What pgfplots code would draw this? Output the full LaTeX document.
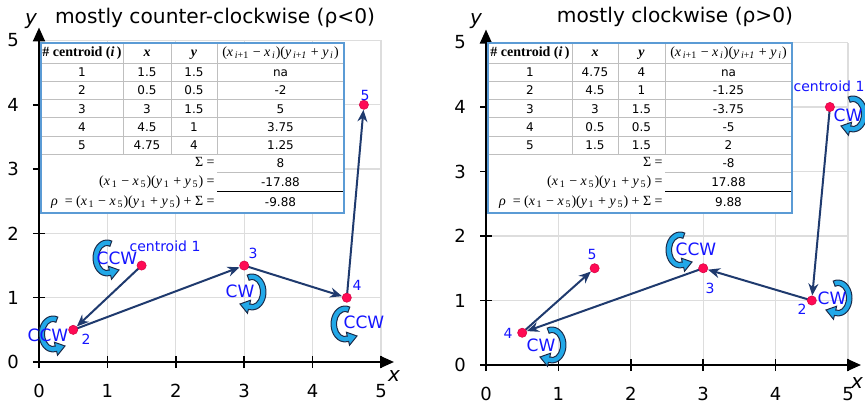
\documentclass[border=0pt]{standalone}
\usepackage{pgfplots}
\pgfplotsset{compat=1.18}
\usetikzlibrary{arrows.meta}
\usepackage{fontspec}
\setmainfont{DejaVu Sans}
\newfontfamily\serif{Liberation Serif}

\definecolor{navy}{HTML}{1F3A6E}
\definecolor{dotred}{HTML}{FF0A54}
\definecolor{labblue}{HTML}{1414FF}
\definecolor{iconblue}{HTML}{22A8E8}
\definecolor{icondark}{HTML}{1B2A48}
\definecolor{tabblue}{HTML}{5B9BD5}
\definecolor{gridgray}{HTML}{DDDDDD}
\definecolor{tabgray}{HTML}{BFBFBF}

\pgfplotsset{
  panel/.style={
    anchor=south west,
    xmin=0, xmax=5, ymin=0, ymax=5,
    enlargelimits=false, clip=false,
    axis lines=left,
    axis line style={black, line width=1pt, -{Triangle[length=7pt,width=6pt]},
      shorten >=-6.5pt, shorten <=-2pt},
    xtick={0,...,5}, ytick={0,...,5},
    tick align=center, major tick length=6pt,
    tick style={black, line width=0.8pt},
    grid=major, major grid style={gridgray, line width=0.6pt},
    ticklabel style={font=\fontsize{9}{10}\selectfont},
    /pgf/number format/assume math mode=true,
    xticklabel style={yshift=-4.5pt},
    yticklabel style={xshift=-3.5pt},
  },
  seg/.style={navy, line width=1pt, -{Stealth[length=6pt,width=5pt]}, shorten >=2.5pt},
  dots/.style={only marks, mark=*, mark size=2.3pt,
    mark options={fill=dotred, draw=dotred!85!black, line width=0.3pt}},
}

% rotation icon: #1 = 1 (ccw) or -1 (cw), #2,#3 centre in pixels
\newcommand{\rot}[3]{%
  \begin{scope}[shift={(#2,#3)}, xscale=#1, yscale=-1]
    \filldraw[fill=iconblue, draw=icondark, line width=0.5pt]
      (70:14 and 18) arc[start angle=70, end angle=285, x radius=14, y radius=18]
      -- (285:17.5 and 22) -- (12,-12) -- (285:5.5 and 8.5) -- (285:8.5 and 12.5)
      arc[start angle=285, end angle=70, x radius=8.5, y radius=12.5] -- cycle;
  \end{scope}}

% table frame: #1..#5 column edges in pixels
\newcommand{\tabframe}[5]{%
  \fill[white] (#1,43.3) rectangle (#5,213.3);
  \foreach \yy in {63.3,81.5,99.7,117.9,136.1,154.3}
    \draw[tabgray, line width=0.5pt] (#1,\yy) -- (#5,\yy);
  \foreach \xx in {#2,#3,#4}
    \draw[tabgray, line width=0.5pt] (\xx,43.3) -- (\xx,154.3);
  \draw[tabgray, line width=0.5pt] (#4,172.7) -- (#5,172.7);
  \draw[black, line width=0.8pt] (#4,191.7) -- (#5,191.7);
  \draw[tabblue, line width=0.9pt] (#1,43.3) rectangle (#5,213.3);
}

% serif variable with subscript
\newcommand{\vs}[2]{\textit{#1}\textsubscript{#2}}
\newcommand{\headf}{(\vs{x}{\,\textit{i}+1} − \vs{x}{\,\textit{i}})(\vs{y}{\,\textit{i}+\textit{1}} + \vs{y}{\,\textit{i}})}
\newcommand{\prodf}{(\vs{x}{\,1} − \vs{x}{\,5})(\vs{y}{\,1} + \vs{y}{\,5})}

\tikzset{
  tt/.style={inner sep=0pt, text height=4.4pt, text depth=0pt,
    font=\fontsize{6}{7}\selectfont},
  ff/.style={inner sep=0pt, text height=4.8pt, text depth=1.4pt,
    font=\fontsize{7}{8}\selectfont\serif},
  lab/.style={labblue, inner sep=0pt, font=\fontsize{7}{8}\selectfont},
  rl/.style={labblue, inner sep=0pt, font=\fontsize{8.5}{10}\selectfont},
}

\begin{document}
\begin{tikzpicture}

% left panel: mostly counter-clockwise
\begin{axis}[panel, at={(19.5pt,25pt)}, x=34.2pt, y=32.15pt]
\addplot[seg] coordinates {(1.5,1.5) (0.5,0.5)};
\addplot[seg] coordinates {(0.5,0.5) (3,1.5)};
\addplot[seg] coordinates {(3,1.5) (4.5,1)};
\addplot[seg] coordinates {(4.5,1) (4.75,4)};
\addplot[dots] coordinates {(1.5,1.5) (0.5,0.5) (3,1.5) (4.5,1) (4.75,4)};
\end{axis}

% right panel: mostly clockwise
\begin{axis}[panel, at={(243pt,23.5pt)}, x=36.2pt, y=32.25pt]
\addplot[seg] coordinates {(4.75,4) (4.5,1)};
\addplot[seg] coordinates {(4.5,1) (3,1.5)};
\addplot[seg] coordinates {(3,1.5) (0.5,0.5)};
\addplot[seg] coordinates {(0.5,0.5) (1.5,1.5)};
\addplot[dots] coordinates {(4.75,4) (4.5,1) (3,1.5) (0.5,0.5) (1.5,1.5)};
\end{axis}

\begin{scope}[x=0.5pt, y=-0.5pt, shift={(0pt,206pt)}]
% titles and axis names
\node[font=\fontsize{10.1}{12}\selectfont] at (215,18) {mostly counter-clockwise (ρ<0)};
\node[font=\fontsize{10.1}{12}\selectfont] at (675,17) {mostly clockwise (ρ>0)};
\node[font=\fontsize{10}{12}\selectfont\itshape] at (31,21) {y};
\node[font=\fontsize{10}{12}\selectfont\itshape] at (476,21) {y};
\node[font=\fontsize{10}{12}\selectfont\itshape] at (394,376) {x};
\node[font=\fontsize{10}{12}\selectfont\itshape] at (857,383) {x};

% left table
\tabframe{41}{123}{171}{217}{344}
\node[ff] at (82,53.3) {\textbf{\# centroid (\textit{i\,})}};
\node[ff] at (147,53.3) {\textbf{\textit{x}}};
\node[ff] at (194,53.3) {\textbf{\textit{y}}};
\node[ff] at (280.5,53.3) {\headf};
\foreach \a/\b/\c/\d [count=\r] in {1/1.5/1.5/na, 2/0.5/0.5/-2, 3/3/1.5/5,
    4/4.5/1/3.75, 5/4.75/4/1.25} {
  \node[tt] at (82,{72.4+18.2*(\r-1)}) {\a};
  \node[tt] at (147,{72.4+18.2*(\r-1)}) {\b};
  \node[tt] at (194,{72.4+18.2*(\r-1)}) {\c};
  \node[tt] at (280.5,{72.4+18.2*(\r-1)}) {\d};
}
\node[ff, anchor=east] at (215,163.5) {Σ =};
\node[ff, anchor=east] at (215,182.2) {\prodf\ =};
\node[ff, anchor=east] at (215,202.5) {\textit{ρ}\ \ = \prodf\ + Σ =};
\node[tt] at (280.5,163.5) {8};
\node[tt] at (280.5,182.2) {-17.88};
\node[tt] at (280.5,202.5) {-9.88};

% right table
\tabframe{488}{572}{618}{665}{792}
\node[ff] at (530,53.3) {\textbf{\# centroid (\textit{i\,})}};
\node[ff] at (595,53.3) {\textbf{\textit{x}}};
\node[ff] at (641.5,53.3) {\textbf{\textit{y}}};
\node[ff] at (728.5,53.3) {\headf};
\foreach \a/\b/\c/\d [count=\r] in {1/4.75/4/na, 2/4.5/1/-1.25, 3/3/1.5/-3.75,
    4/0.5/0.5/-5, 5/1.5/1.5/2} {
  \node[tt] at (530,{72.4+18.2*(\r-1)}) {\a};
  \node[tt] at (595,{72.4+18.2*(\r-1)}) {\b};
  \node[tt] at (641.5,{72.4+18.2*(\r-1)}) {\c};
  \node[tt] at (728.5,{72.4+18.2*(\r-1)}) {\d};
}
\node[ff, anchor=east] at (663,163.5) {Σ =};
\node[ff, anchor=east] at (663,182.2) {\prodf\ =};
\node[ff, anchor=east] at (663,202.5) {\textit{ρ}\ \ = \prodf\ + Σ =};
\node[tt] at (728.5,163.5) {-8};
\node[tt] at (728.5,182.2) {17.88};
\node[tt] at (728.5,202.5) {9.88};

% rotation icons
\rot{1}{107}{258}
\rot{1}{53}{334}
\rot{-1}{252}{292}
\rot{1}{345}{324}
\rot{-1}{853}{114}
\rot{-1}{838}{298}
\rot{1}{680}{250}
\rot{-1}{552}{345}

% rotation words
\node[rl] at (117,258) {CCW};
\node[rl] at (48,335) {CCW};
\node[rl] at (240,291) {CW};
\node[rl] at (364,322) {CCW};
\node[rl] at (848,115) {CW};
\node[rl] at (832,298) {CW};
\node[rl] at (696,249) {CCW};
\node[rl] at (541,345) {CW};

% point names
\node[lab] at (165,246) {centroid 1};
\node[lab] at (86,339) {2};
\node[lab] at (253,253) {3};
\node[lab] at (357,285) {4};
\node[lab] at (365,95) {5};
\node[lab] at (829,86) {centroid 1};
\node[lab] at (802,309) {2};
\node[lab] at (710,288) {3};
\node[lab] at (508,333) {4};
\node[lab] at (592,254) {5};
\end{scope}

\pgfresetboundingbox
\path (0pt,0pt) rectangle (432.5pt,206pt);
\end{tikzpicture}
\end{document}
